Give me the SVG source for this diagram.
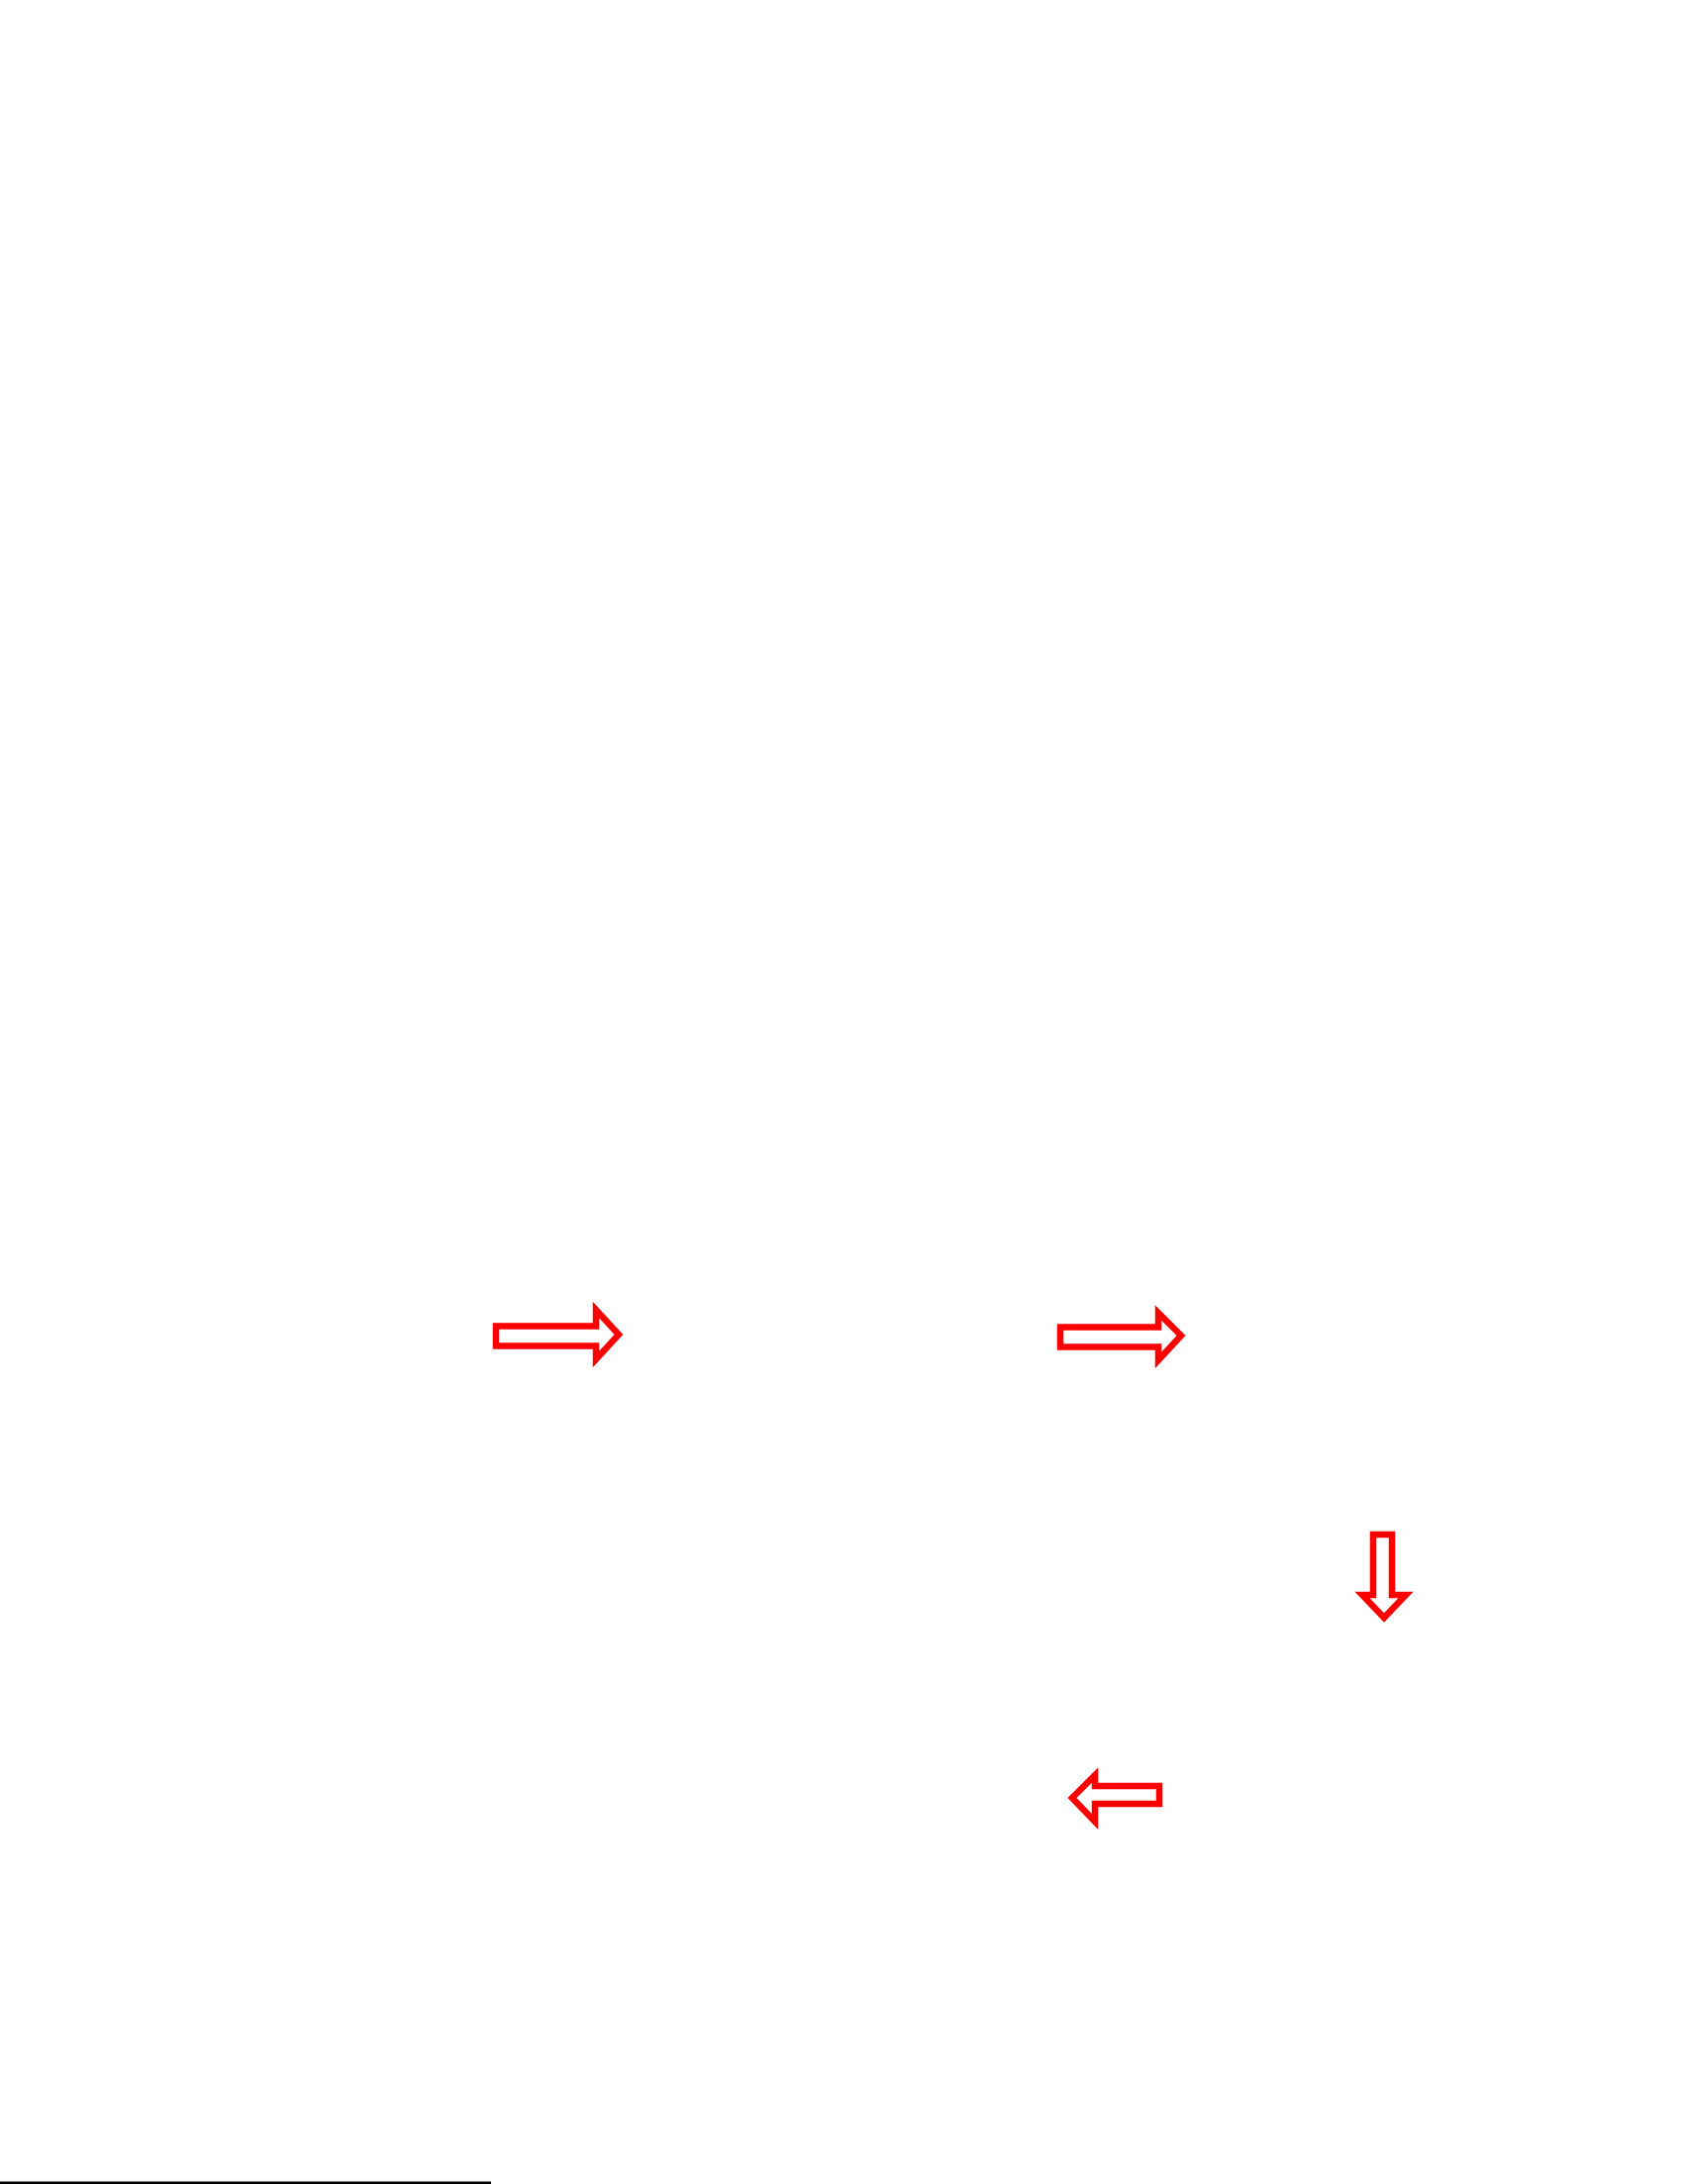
<svg xmlns="http://www.w3.org/2000/svg" width="1702" height="2206" viewBox="0 0 1702 2206">
<style>
.arrow{fill:#ffffff;stroke:#ff0000;stroke-width:6.5;stroke-linejoin:miter;stroke-miterlimit:4}
.rule{stroke:#000000;stroke-width:3}
</style>
<rect x="0" y="0" width="1702" height="2206" fill="#ffffff"/>
<g id="connectors">
<polygon id="arrow-right-1" class="arrow" points="501,1339.5 602,1339.5 602,1323 625,1348 602,1373 602,1359.5 501,1359.5"/>
<polygon id="arrow-right-2" class="arrow" points="1071,1340.5 1170,1340.5 1170,1326 1193,1349 1170,1374 1170,1360.5 1071,1360.5"/>
<polygon id="arrow-down" class="arrow" points="1387,1550 1406,1550 1406,1611 1420,1611 1398,1634 1376,1611 1387,1611"/>
<polygon id="arrow-left" class="arrow" points="1171,1804 1106,1804 1106,1793 1083,1816 1106,1840 1106,1822 1171,1822"/>
</g>
<line class="rule" x1="0" y1="2205" x2="496" y2="2205"/>
</svg>
